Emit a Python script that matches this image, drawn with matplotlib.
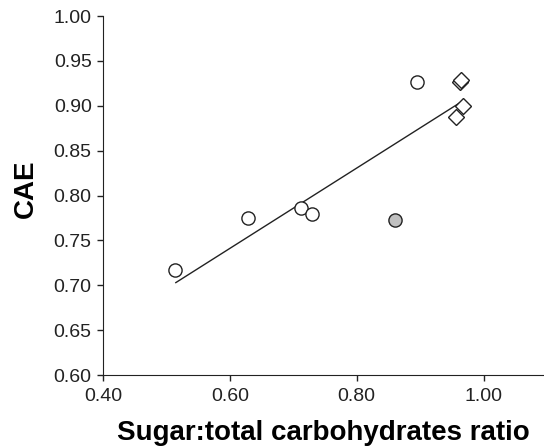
import matplotlib
matplotlib.use("Agg")
import matplotlib.pyplot as plt
import numpy as np

plt.rcParams['font.family'] = ['Liberation Sans', 'DejaVu Sans']

circle_x = [0.514, 0.628, 0.712, 0.729, 0.895]
circle_y = [0.717, 0.775, 0.786, 0.779, 0.926]
grey_x = [0.860]
grey_y = [0.773]
diamond_x = [0.962, 0.965, 0.968, 0.957]
diamond_y = [0.927, 0.929, 0.900, 0.888]
line_x = [0.515, 0.966]
line_y = [0.703, 0.905]

xticks = [0.40, 0.60, 0.80, 1.00]
yticks = [0.60, 0.65, 0.70, 0.75, 0.80, 0.85, 0.90, 0.95, 1.00]

fig = plt.figure(figsize=(5.44, 4.47), dpi=100)
ax = fig.add_axes([0.189, 0.161, 0.811, 0.803])

ax.plot(line_x, line_y, color='#222222', lw=1.0)
ax.plot(circle_x, circle_y, 'o', ms=9.5, mfc='white', mec='#222222', mew=1.0, ls='none')
ax.plot(grey_x, grey_y, 'o', ms=9.5, mfc='#c0c0c0', mec='#222222', mew=1.0, ls='none')
ax.plot(diamond_x, diamond_y, 'D', ms=8.5, mfc='white', mec='#222222', mew=1.0, ls='none')

ax.set_xlim(0.40, 1.095)
ax.set_ylim(0.60, 1.00)
ax.set_xticks(xticks)
ax.set_xticklabels([f"{v:.2f}" for v in xticks])
ax.set_yticks(yticks)
ax.set_yticklabels([f"{v:.2f}" for v in yticks])
ax.spines['top'].set_visible(False)
ax.spines['right'].set_visible(False)
for s in ['left', 'bottom']:
    ax.spines[s].set_color('#222222')
ax.tick_params(axis='both', direction='out', length=4.5, width=1, colors='#222222', labelsize=14)
ax.tick_params(axis='x', pad=5)
ax.set_xlabel('Sugar:total carbohydrates ratio', fontsize=20, fontweight='bold', labelpad=10.5)
ax.set_ylabel('CAE', fontsize=20, fontweight='bold', labelpad=11)
ax.yaxis.label.set_y(0.52)

fig.savefig('out.png', dpi=100)
